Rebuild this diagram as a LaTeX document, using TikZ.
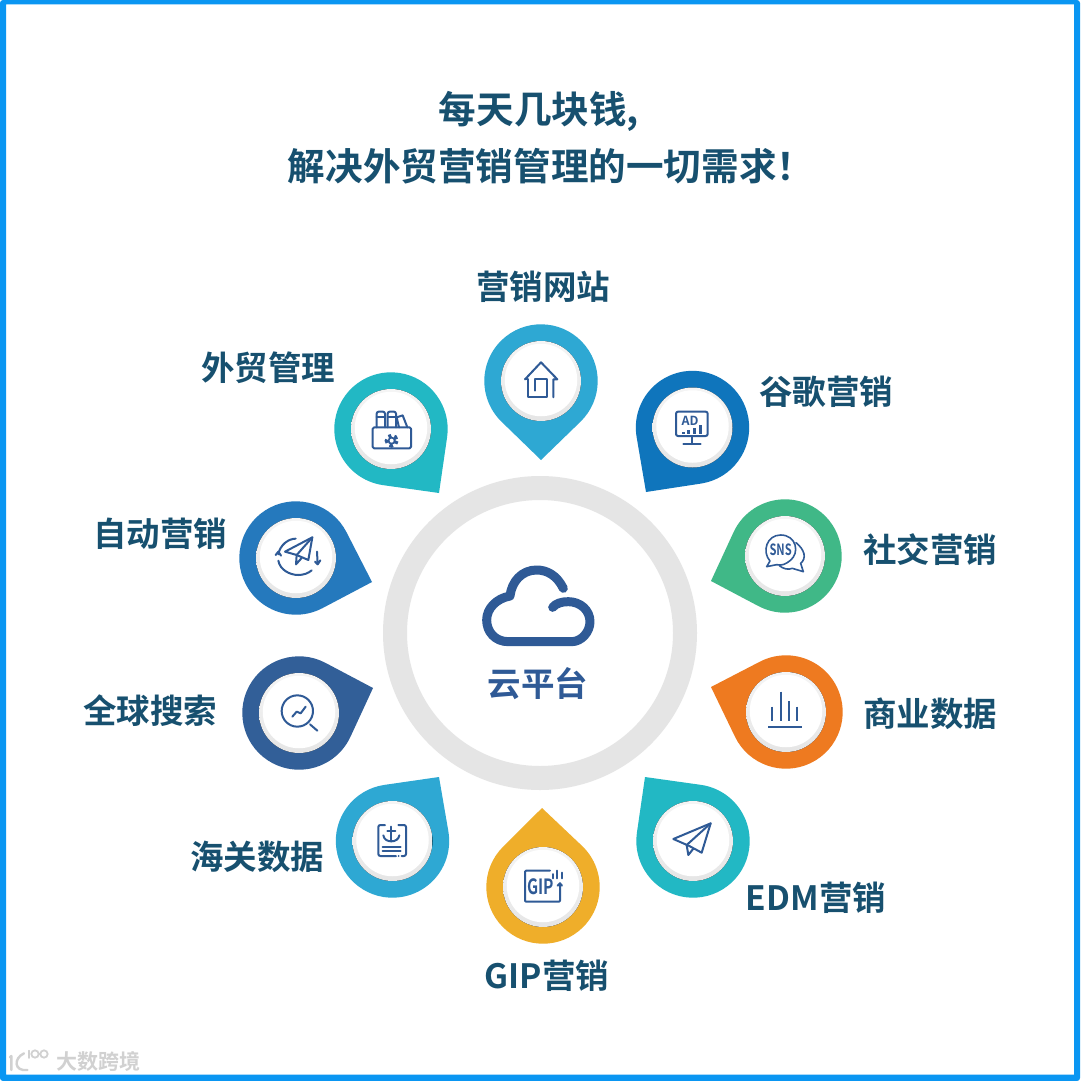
\documentclass[tikz,border=0pt]{standalone}
\usepackage{fontspec}
\newfontfamily\cjkb{Noto Sans CJK SC Bold}
\usetikzlibrary{calc}
\definecolor{ink}{HTML}{17506F}
\definecolor{ico}{HTML}{2F5A96}
\definecolor{frameblue}{HTML}{0A96F2}
\definecolor{ringgray}{HTML}{E5E5E5}
\definecolor{pinsky}{HTML}{2EA8D3}
\definecolor{pinblue}{HTML}{0F75BC}
\definecolor{pinteal}{HTML}{22B8C4}
\definecolor{pinmid}{HTML}{2579BD}
\definecolor{pinnavy}{HTML}{325F98}
\definecolor{pingold}{HTML}{EFAE2A}
\definecolor{pinorange}{HTML}{EE7A20}
\definecolor{pingreen}{HTML}{40B887}
\tikzset{
  x=1pt,y=1pt,
  label text/.style={inner sep=0pt,text=ink,font=\cjkb\fontsize{33.5}{40}\selectfont},
  title text/.style={inner sep=0pt,text=ink,font=\cjkb\fontsize{37.6}{44}\selectfont},
  iconline/.style={draw=ico,line width=2pt,line cap=round,line join=round},
  zoomed/.style={x=0.33333pt,y=-0.33333pt},
}
\newcommand{\pinshape}[6]{% cx cy tipx tipy colour name
  \pgfmathsetmacro{\pd}{veclen(#3-#1,#4-#2)}
  \pgfmathsetmacro{\pa}{acos(56.7/\pd)}
  \pgfmathsetmacro{\pb}{atan2(-(#4-#2),#3-#1)}
  \fill[#5] (#3,-#4) -- ($(#1,-#2)+(\pb+\pa:56.7)$) arc[start angle=\pb+\pa,delta angle=360-2*\pa,radius=56.7] -- cycle;
  \fill[top color=black!4,bottom color=black!10] (#1,-#2) circle[radius=40];
  \node[circle,fill=white,minimum size=72.5pt,inner sep=0pt] (#6) at (#1,-#2+1) {};
}
\begin{document}
\begin{tikzpicture}
\useasboundingbox (0,0) rectangle (1080,-1081);
\fill[white] (0,0) rectangle (1080,-1081);
\fill[frameblue,even odd rule,rounded corners=3pt] (0,0) rectangle (1080,-1081) [sharp corners] (6,-4.5) rectangle (1074,-1074.5);

\node[title text] (t1) at (539,-111.5) {每天几块钱,};
\node[title text] (t2) at (551,-166) {解决外贸营销管理的一切需求！};

\draw[ringgray,line width=24pt] (540,-633) circle[radius=145];

\pinshape{541}{381}{541}{460}{pinsky}{p1}
\pinshape{692.5}{427.5}{646}{492}{pinblue}{p2}
\pinshape{785}{556}{711}{581}{pingreen}{p3}
\pinshape{786}{712}{711}{687}{pinorange}{p4}
\pinshape{693}{841}{645}{777}{pinteal}{p5}
\pinshape{543}{887}{542}{808}{pingold}{p6}
\pinshape{392.5}{841}{439}{777}{pinsky}{p7}
\pinshape{299}{713}{373}{688}{pinnavy}{p8}
\pinshape{296}{558}{372}{582}{pinmid}{p9}
\pinshape{391}{429}{439}{493}{pinteal}{p10}

% labels
\node[label text] (l1) at (543,-287) {营销网站};
\node[label text] (l2) at (826,-392) {谷歌营销};
\node[label text] (l3) at (930,-550) {社交营销};
\node[label text] (l4) at (930,-714) {商业数据};
\node[label text] (l5) at (816,-898) {EDM营销};
\node[label text] (l6) at (547,-976) {GIP营销};
\node[label text] (l7) at (257,-857) {海关数据};
\node[label text] (l8) at (150,-711) {全球搜索};
\node[label text] (l9) at (160,-534) {自动营销};
\node[label text] (l10) at (268,-368) {外贸管理};
\node[label text,text=ico] (l0) at (538,-684) {云平台};

% cloud
\begin{scope}[shift={(380,-470)},zoomed]
\draw[ico,line width=9pt,line cap=round,line join=round]
 (550,355) .. controls (530,315) and (500,300) .. (470,300)
 .. controls (425,300) and (395,335) .. (390,378)
 .. controls (350,385) and (320,415) .. (320,450)
 .. controls (320,485) and (345,515) .. (385,515)
 -- (575,515)
 .. controls (605,515) and (630,485) .. (630,455)
 .. controls (630,420) and (600,395) .. (565,395)
 .. controls (545,395) and (528,400) .. (518,412);
\end{scope}

% house
\begin{scope}[shift={(470,-320)},zoomed]
\draw[iconline] (165,178) -- (213,127) -- (262,178) -- (250,178) -- (250,232);
\draw[iconline] (165,178) -- (175,178) -- (175,232) -- (232,232) -- (232,178) -- (195,178) -- (195,212);
\end{scope}
% AD monitor
\begin{scope}[shift={(470,-320)},zoomed]
\draw[iconline,rounded corners=2pt] (618,275) rectangle (713,348);
\draw[iconline] (665,348) -- (665,372) (640,373) -- (692,373);
\node[inner sep=0pt,text=ico,font=\cjkb\fontsize{12.5}{13}\selectfont] (adtxt) at (660,302) {AD};
\draw[ico,line width=2.6pt] (640,341) -- (640,336) (656,341) -- (656,331) (674,341) -- (674,324) (692,341) -- (692,315);
\end{scope}
% toolbox
\begin{scope}[shift={(330,-370)},zoomed]
\draw[iconline,rounded corners=1.5pt] (128,172) rectangle (243,235);
\draw[iconline,rounded corners=2pt] (140,172) -- (140,125) -- (165,125) -- (165,172);
\draw[iconline] (140,140) -- (165,140);
\draw[iconline,rounded corners=2pt] (173,172) -- (173,125) -- (198,125) -- (198,172);
\draw[iconline] (173,140) -- (198,140);
\draw[iconline] (207,172) -- (200,142) -- (218,136) -- (232,172);
\fill[ico,even odd rule] (185,212) circle[radius=12] (185,212) circle[radius=6];
\draw[ico,line width=5.2pt,dash pattern=on 3pt off 2.6pt] (185,212) circle[radius=13];
\fill[white] (185,212) circle[radius=6];
\end{scope}
% auto marketing
\begin{scope}[shift={(235,-495)},zoomed]
\draw[iconline] (150,170) -- (232,127) -- (220,195) -- (185,180) -- cycle;
\draw[iconline] (232,127) -- (185,180) -- (183,208) -- (200,189);
\draw[iconline] (182,131) .. controls (160,131) and (135,150) .. (130,178);
\draw[iconline] (130,197) .. controls (135,225) and (165,240) .. (190,240) .. controls (205,240) and (220,235) .. (230,226);
\draw[iconline] (122,180) -- (130,170) -- (138,182);
\draw[iconline] (240,200) -- (248,208) -- (256,196) (248,208) -- (246,170);
\end{scope}
% search
\begin{scope}[shift={(235,-495)},zoomed]
\draw[iconline] (187,648) circle[radius=47];
\draw[iconline] (225,688) -- (247,707);
\draw[iconline] (172,665) -- (185,650) -- (197,655) -- (212,635);
\end{scope}
% customs document
\begin{scope}[shift={(330,-770)},zoomed]
\draw[iconline,rounded corners=2pt] (165,165) -- (145,165) -- (145,258) -- (198,258) (215,258) -- (228,258) -- (228,165) -- (205,165);
\fill[ico] (206,258) circle[radius=3];
\draw[iconline] (184,170) -- (184,214) (172,182) -- (196,182);
\draw[iconline] (160,196) .. controls (162,208) and (172,214) .. (184,214) .. controls (196,214) and (206,208) .. (208,196);
\draw[iconline] (158,230) -- (212,230) (158,242) -- (212,242);
\end{scope}
% GIP
\begin{scope}[shift={(330,-770)},zoomed]
\draw[iconline,rounded corners=1pt] (660,302) -- (585,302) -- (585,395) -- (690,395) -- (690,340);
\node[inner sep=0pt,text=ico,font=\cjkb\fontsize{21}{22}\selectfont,xscale=0.74,transform shape] (giptxt) at (633,350) {GIP};
\draw[iconline] (683,347) -- (690,340) -- (696,347);
\draw[iconline] (669,312) -- (669,325) (681,302) -- (681,325) (696,308) -- (696,325);
\end{scope}
% SNS
\begin{scope}[shift={(630,-495)},zoomed]
\draw[iconline,line width=1.6pt] (498,143) .. controls (525,165) and (530,190) .. (512,205) -- (520,230) -- (487,220) .. controls (475,225) and (460,222) .. (448,212);
\draw[iconline,line width=1.6pt,fill=white] (420,198) .. controls (395,170) and (410,120) .. (452,120) .. controls (500,120) and (510,175) .. (480,197) .. controls (468,207) and (455,213) .. (440,209) -- (410,215) -- cycle;
\node[inner sep=0pt,text=ico,font=\cjkb\fontsize{15.5}{16}\selectfont,xscale=0.72,transform shape] (snstxt) at (452,165) {SNS};
\end{scope}
% bars
\begin{scope}[shift={(630,-495)},zoomed]
\draw[ico,line width=2pt] (427,635) -- (427,678) (452,590) -- (452,678) (476,618) -- (476,678) (500,635) -- (500,678) (415,697) -- (517,697);
\end{scope}
% paper plane
\begin{scope}[shift={(630,-770)},zoomed]
\draw[iconline] (130,207) -- (242,160) -- (215,248) -- (178,228) -- cycle;
\draw[iconline] (242,160) -- (170,225) -- (175,255) -- (190,236);
\end{scope}

% watermark
\node[inner sep=0pt,text=black!18,font=\cjkb\fontsize{21}{24}\selectfont] (wm) at (98,-1061) {大数跨境};
\begin{scope}[shift={(0,-1030)},zoomed]
\draw[black!18,line width=2.4pt,line cap=round] (34,78) -- (34,120) (30,82) -- (34,78) (72,70) .. controls (40,85) and (42,125) .. (82,120);
\draw[black!18,line width=1.8pt,line cap=round] (86,62) -- (86,84);
\draw[black!18,line width=1.8pt] (105,72) circle[radius=11] (132,72) circle[radius=11];
\end{scope}
\end{tikzpicture}
\end{document}
